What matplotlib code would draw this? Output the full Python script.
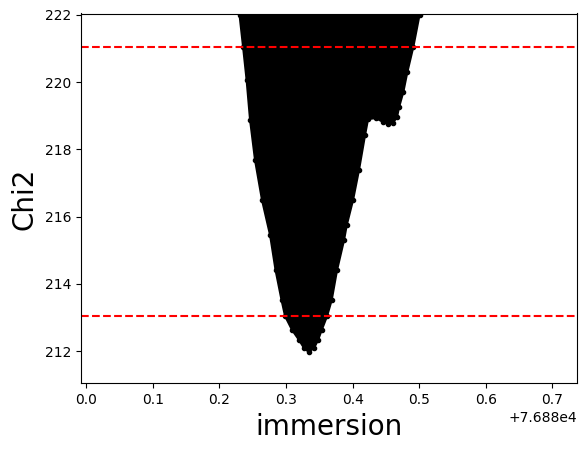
import matplotlib
matplotlib.use("Agg")
import matplotlib.pyplot as plt
import numpy as np

# chi2 valley outline (immersion offset from 76880)
t0 = 76880.0
left_imm = [0.2285, 0.2301, 0.2354, 0.2407, 0.2459, 0.2534, 0.2639, 0.2760,
            0.2842, 0.2932, 0.2985, 0.3090, 0.3195, 0.3270, 0.3338]
left_chi = [222.3, 222.0, 221.05, 220.07, 218.88, 217.68, 216.49, 215.45,
            214.41, 213.52, 213.04, 212.63, 212.33, 212.09, 211.98]

right_imm = [0.3420, 0.3481, 0.3536, 0.3616, 0.3686, 0.3766, 0.3871, 0.3912,
             0.4006, 0.4096, 0.4187, 0.4232, 0.4352, 0.4457, 0.4532, 0.4607,
             0.4667, 0.4697, 0.4762, 0.4822, 0.4912, 0.5005, 0.5030]
right_chi = [212.09, 212.33, 212.63, 213.04, 213.52, 214.41, 215.30, 215.75,
             216.49, 217.39, 218.43, 218.90, 218.93, 218.81, 218.75, 218.79,
             218.96, 219.25, 219.71, 220.30, 221.05, 222.0, 222.3]

chi_min = 212.05
levels = [chi_min + 1, chi_min + 9]

fig = plt.figure(figsize=(5.85, 4.5), dpi=100)
ax = fig.add_axes([0.138, 0.148, 0.848, 0.822])

xs = np.array(left_imm + right_imm) + t0
ys = np.array(left_chi + right_chi)
ax.fill(xs, ys, color='k', lw=1.5)
ax.plot(xs, ys, 'k.', ms=6)

for lv in levels:
    ax.axhline(lv, color='r', linestyle='--', lw=1.5)

ax.set_xlim(t0 - 0.0084, t0 + 0.7367)
ax.set_ylim(211.04, 222.04)
ax.set_xlabel('immersion', fontsize=20)
ax.set_ylabel('Chi2', fontsize=20)

fig.savefig('out.png')
